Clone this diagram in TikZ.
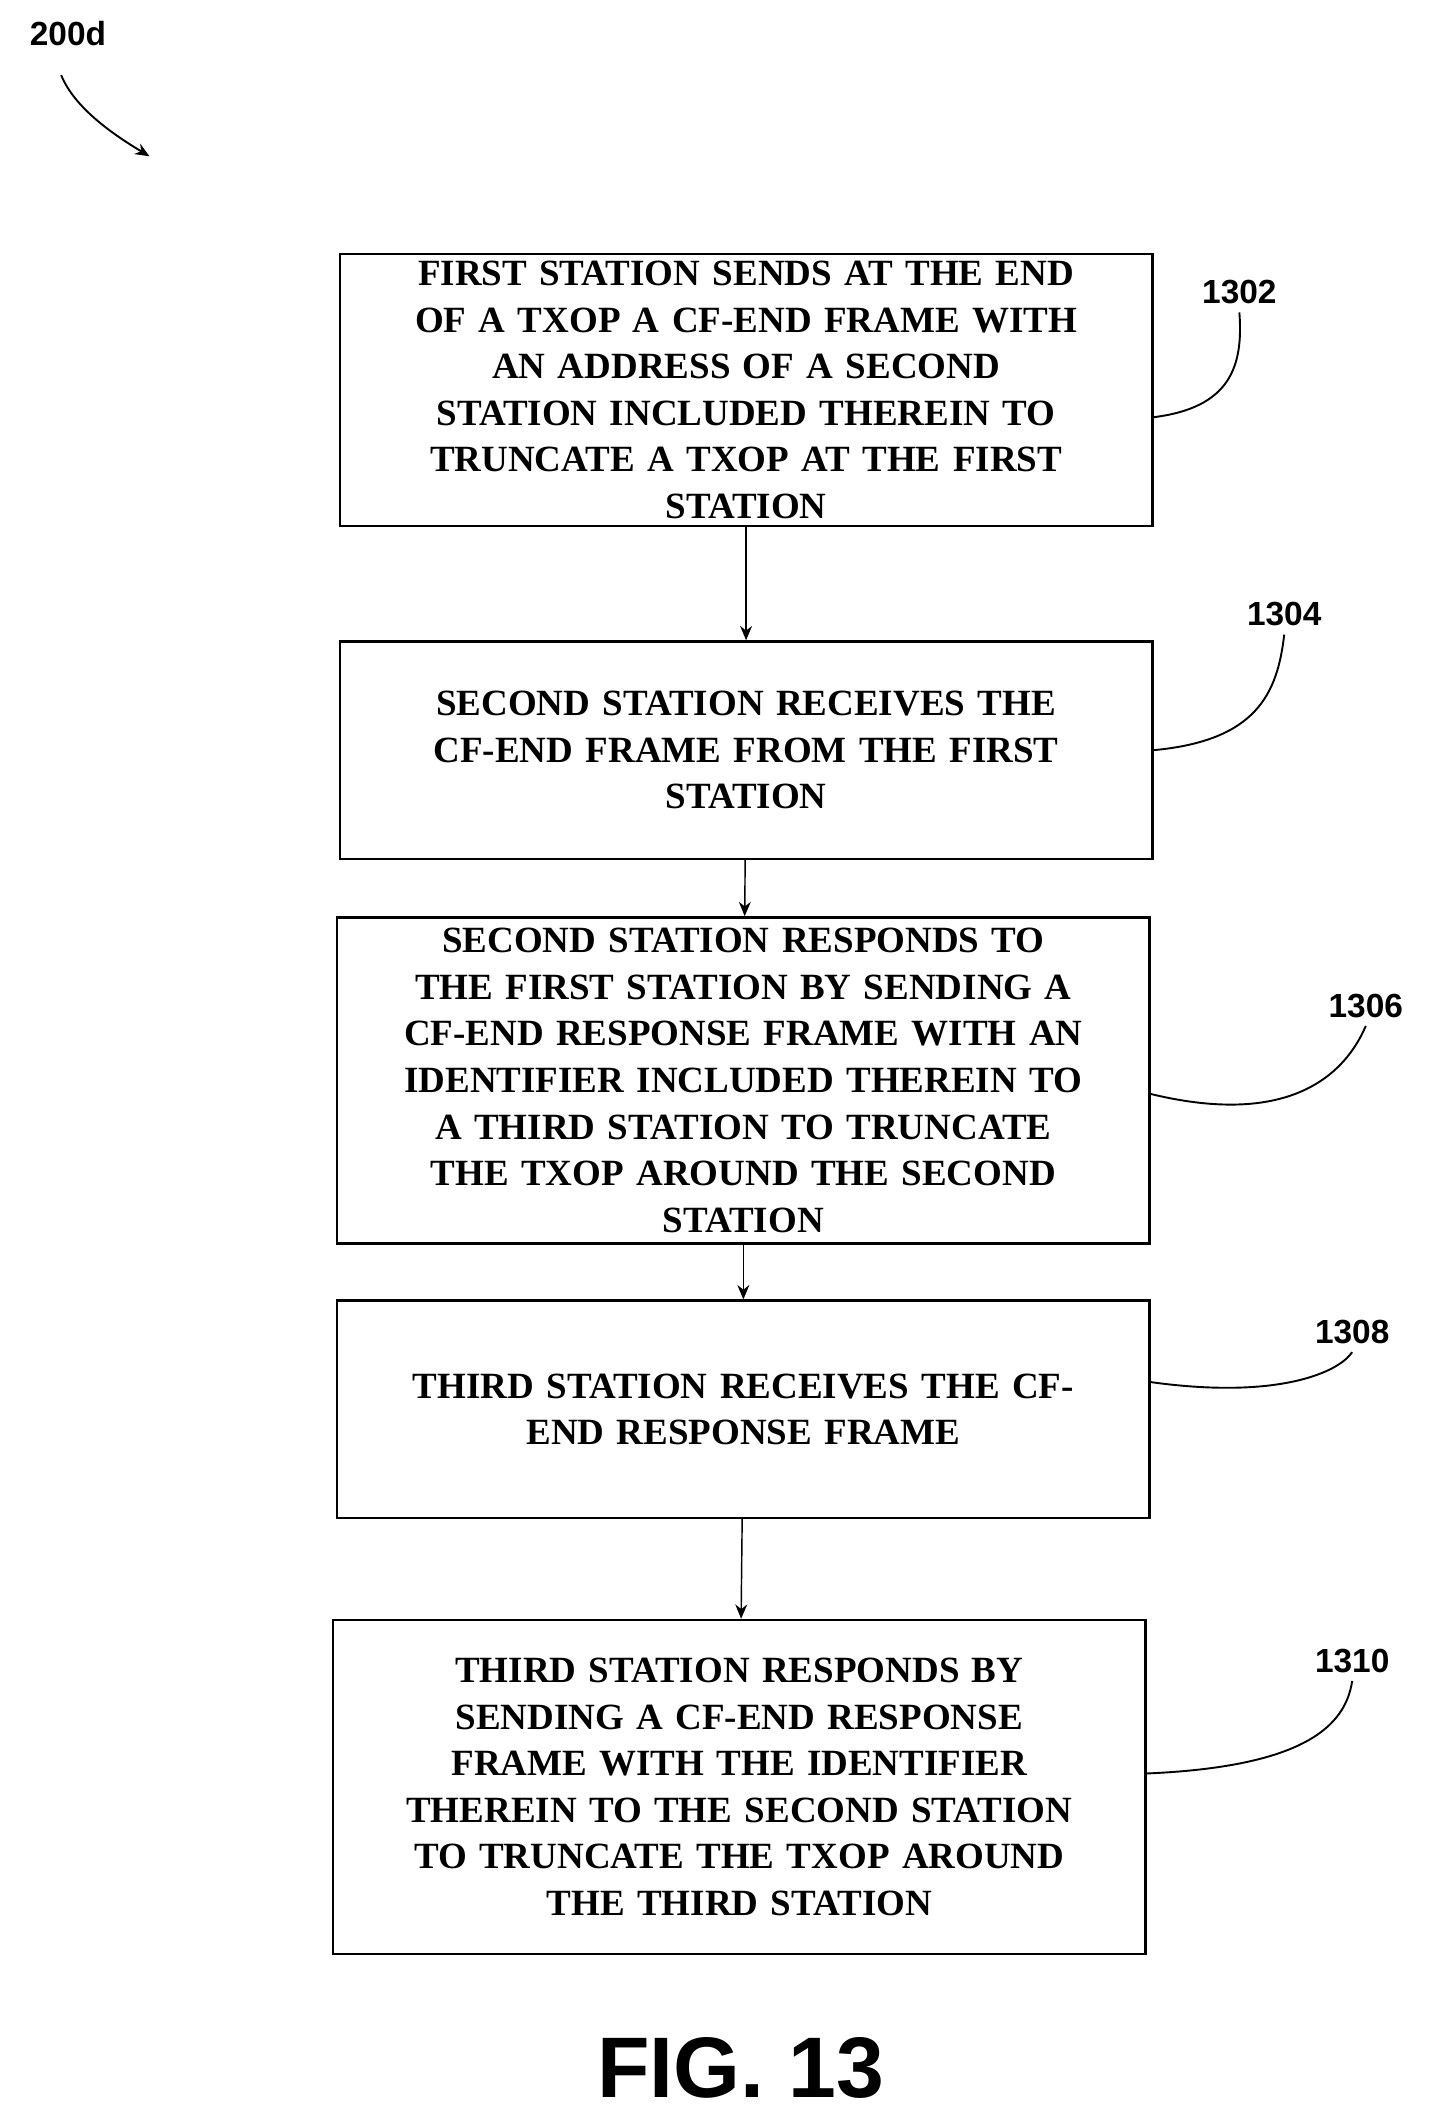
\documentclass[tikz,border=0pt]{standalone}
\usepackage{fontspec}
\setmainfont{Liberation Serif}
\setsansfont{Liberation Sans}
\usetikzlibrary{positioning,arrows.meta}
\begin{document}
\begin{tikzpicture}[x=0.02cm,y=-0.02cm,
    stepbox/.style={draw, line width=1pt, minimum width=11.96cm, text width=11.8cm, align=center,
      font=\fontsize{15.5}{19.5}\selectfont\bfseries, inner sep=0pt},
    ref/.style={font=\sffamily\bfseries\fontsize{14}{16}\selectfont},
    lead/.style={line width=0.8pt},
    flow/.style={-{Stealth[length=6pt,width=5pt]}, line width=0.6pt}]
    \useasboundingbox (0,0) rectangle (1052,1560);

    \node[stepbox, minimum height=4cm] (s1) at (549,287) {FIRST STATION SENDS AT THE END\\ OF A TXOP A CF-END FRAME WITH\\ AN ADDRESS OF A SECOND\\ STATION INCLUDED THEREIN TO\\ TRUNCATE A TXOP AT THE FIRST\\ STATION};
    \node[stepbox, minimum height=3.2cm] (s2) at (549,552) {SECOND STATION RECEIVES THE\\ CF-END FRAME FROM THE FIRST\\ STATION};
    \node[stepbox, minimum height=4.8cm] (s3) at (547,795) {SECOND STATION RESPONDS TO\\ THE FIRST STATION BY SENDING A\\ CF-END RESPONSE FRAME WITH AN\\ IDENTIFIER INCLUDED THEREIN TO\\ A THIRD STATION TO TRUNCATE\\ THE TXOP AROUND THE SECOND\\ STATION};
    \node[stepbox, minimum height=3.2cm] (s4) at (547,1037) {THIRD STATION RECEIVES THE CF-\\ END RESPONSE FRAME};
    \node[stepbox, minimum height=4.92cm] (s5) at (544,1315) {THIRD STATION RESPONDS BY\\ SENDING A CF-END RESPONSE\\ FRAME WITH THE IDENTIFIER\\ THEREIN TO THE SECOND STATION\\ TO TRUNCATE THE TXOP AROUND\\ THE THIRD STATION};

    \draw[flow] (s1) -- (s2);
    \draw[flow] (s2) -- (s3);
    \draw[flow] (s3) -- (s4);
    \draw[flow] (s4) -- (s5);

    % reference numerals
    \node[ref] (n1) at (912,215) {1302};
    \node[ref] (n2) at (945,452) {1304};
    \node[ref] (n3) at (1005,740) {1306};
    \node[ref] (n4) at (995,980) {1308};
    \node[ref] (n5) at (995,1222) {1310};
    \draw[lead] (s1.east) ++(0,20) .. controls (905,300) and (915,270) .. (n1.south);
    \draw[lead] (s2.east) .. controls (925,545) and (940,510) .. (n2.south);
    \draw[lead] (s3.east) ++(0,10) .. controls (950,830) and (990,790) .. (n3.south);
    \draw[lead] (s4.east) ++(0,-20) .. controls (940,1030) and (985,1010) .. (n4.south);
    \draw[lead] (s5.east) ++(0,-10) .. controls (960,1300) and (990,1270) .. (n5.south);

    \node[ref] (fig) at (50,25) {200d};
    \coordinate (figtip) at (110,115);
    \draw[flow, lead] (fig.south) ++(-5,15) .. controls (55,80) and (85,100) .. (figtip);

    \node[font=\sffamily\bfseries\fontsize{36}{40}\selectfont] (cap) at (545,1522) {FIG. 13};
\end{tikzpicture}
\end{document}
